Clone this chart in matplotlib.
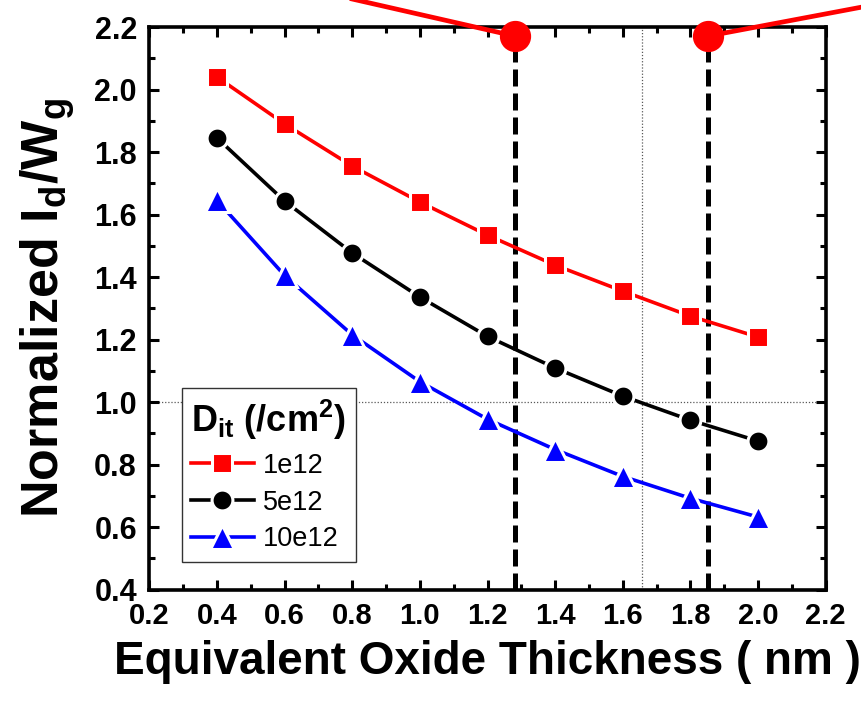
import matplotlib
matplotlib.use("Agg")
import matplotlib.pyplot as plt
from matplotlib.ticker import MultipleLocator, FormatStrFormatter

plt.rcParams['font.family'] = ['Liberation Sans', 'DejaVu Sans']
plt.rcParams['mathtext.fontset'] = 'custom'
plt.rcParams['mathtext.rm'] = 'Liberation Sans:bold'
plt.rcParams['mathtext.it'] = 'Liberation Sans:bold'
plt.rcParams['mathtext.bf'] = 'Liberation Sans:bold'

# ---- data ----
eot = [0.4, 0.6, 0.8, 1.0, 1.2, 1.4, 1.6, 1.8, 2.0]
id_1e12 = [2.04, 1.89, 1.755, 1.64, 1.534, 1.438, 1.355, 1.275, 1.208]
id_5e12 = [1.845, 1.643, 1.477, 1.336, 1.21, 1.109, 1.019, 0.942, 0.875]
id_10e12 = [1.645, 1.405, 1.215, 1.065, 0.945, 0.848, 0.762, 0.692, 0.632]
series_labels = ['1e12', '5e12', '10e12']

# red overlay curve (two branches meeting circles at the cut points)
left_branch_x = [0.62, 1.281]
left_branch_y = [2.334, 2.171]
right_branch_x = [1.852, 2.45]
right_branch_y = [2.171, 2.293]
cut_x = [1.281, 1.852]
cut_y = [2.171, 2.171]
ref_x = 1.657
ref_y = 1.0

fig = plt.figure(figsize=(8.62, 7.04), dpi=100)
ax = fig.add_axes([0.1733, 0.1626, 0.7845, 0.799])

# reference dotted lines
ax.axhline(ref_y, color='0.35', lw=0.9, ls=(0, (1, 1.5)), zorder=1)
ax.axvline(ref_x, color='0.35', lw=0.9, ls=(0, (1, 1.5)), zorder=1)

# vertical dashed lines
for cx, cy in zip(cut_x, cut_y):
    ax.plot([cx, cx], [0.4, cy], color='black', lw=3.6, dashes=(3.4, 1.4),
            zorder=2, solid_capstyle='butt', dash_capstyle='butt')

styles = [('red', 's', 14.5), ('black', 'o', 15.0), ('blue', '^', 17.0)]
for ys, lab, (c, m, ms) in zip([id_1e12, id_5e12, id_10e12], series_labels, styles):
    ax.plot(eot, ys, color=c, lw=2.6, marker=m, ms=ms, mfc=c,
            mec='white', mew=2.2, label=lab, zorder=3)

# red overlay
ax.plot(left_branch_x, left_branch_y, color='red', lw=3.4, clip_on=False, zorder=5)
ax.plot(right_branch_x, right_branch_y, color='red', lw=3.4, clip_on=False, zorder=5)
ax.plot(cut_x, cut_y, ls='none', marker='o', ms=21.5, color='red', clip_on=False, zorder=6)

ax.set_xlim(0.2, 2.2)
ax.set_ylim(0.4, 2.2)
ax.xaxis.set_major_locator(MultipleLocator(0.2))
ax.xaxis.set_minor_locator(MultipleLocator(0.1))
ax.yaxis.set_major_locator(MultipleLocator(0.2))
ax.yaxis.set_minor_locator(MultipleLocator(0.1))
ax.xaxis.set_major_formatter(FormatStrFormatter('%.1f'))
ax.yaxis.set_major_formatter(FormatStrFormatter('%.1f'))

ax.tick_params(which='both', direction='in', top=True, right=True, width=2.2)
ax.tick_params(which='major', length=7.5)
ax.tick_params(which='minor', length=4)
ax.tick_params(axis='x', which='major', pad=9, labelsize=21)
ax.tick_params(axis='y', which='major', pad=9, labelsize=22)
for lbl in ax.get_xticklabels() + ax.get_yticklabels():
    lbl.set_fontweight('bold')
for sp in ax.spines.values():
    sp.set_linewidth(2.6)

ax.set_xlabel('Equivalent Oxide Thickness ( nm )', fontsize=33, fontweight='bold', labelpad=7)
ax.set_ylabel(r'Normalized I$_{\rm d}$/W$_{\rm g}$', fontsize=37.5, fontweight='bold', labelpad=12)

leg = ax.legend(loc='lower left', bbox_to_anchor=(0.048, 0.049), borderaxespad=0,
                fontsize=19.5, title=r'D$_{\rm it}$ (/cm$^{2}$)', title_fontsize=26,
                handlelength=2.3, fancybox=False, edgecolor='0.2', framealpha=1,
                alignment='left', labelspacing=0.4, borderpad=0.35, handletextpad=0.35)
leg.get_frame().set_linewidth(1.0)
leg.get_title().set_fontweight('bold')

fig.savefig('out.png', dpi=100)
